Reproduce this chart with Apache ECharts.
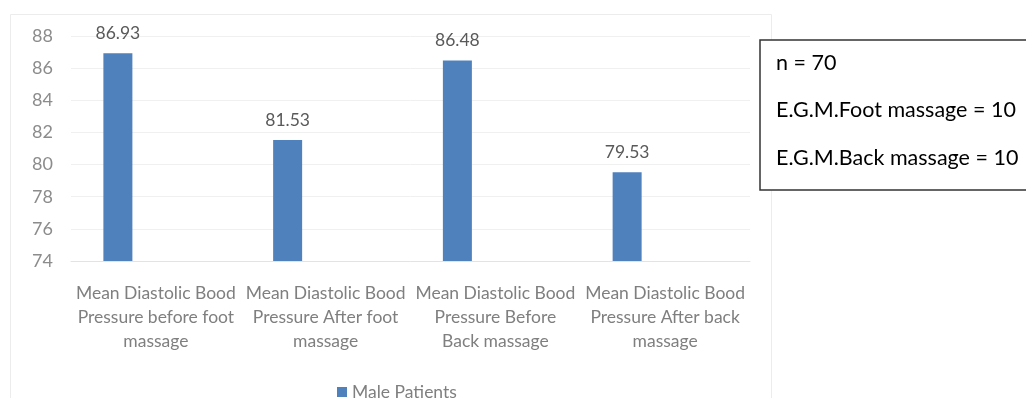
<!DOCTYPE html>
<html>
<head>
<meta charset="utf-8">
<script src="https://cdn.jsdelivr.net/npm/echarts@6/dist/echarts.min.js"></script>
<style>
html,body{margin:0;padding:0;background:#fff;}
#c{width:1026px;height:398px;}
</style>
</head>
<body>
<div id="c"></div>
<script>
const categories = [
  "Mean Diastolic Bood\nPressure before foot\nmassage",
  "Mean Diastolic Bood\nPressure After foot\nmassage",
  "Mean Diastolic Bood\nPressure Before\nBack massage",
  "Mean Diastolic Bood\nPressure After back\nmassage"
];
const malePatients = [86.93, 81.53, 86.48, 79.53];
const seriesName = "Male Patients";
const noteLines = ["n = 70", "E.G.M.Foot massage = 10", "E.G.M.Back massage = 10"];

const FONT = "Lato, 'Open Sans', sans-serif";
const chart = echarts.init(document.getElementById('c'), null, {renderer: 'canvas'});
chart.setOption({
  backgroundColor: '#fff',
  animation: false,
  textStyle: {fontFamily: FONT},
  grid: {left: 71, right: 276, top: 36, bottom: 137, containLabel: false},
  legend: {
    data: [seriesName],
    top: 378, left: 332,
    itemWidth: 10, itemHeight: 10, itemGap: 6,
    icon: 'rect',
    textStyle: {color: '#7f7f7f', fontSize: 17.5, fontFamily: FONT, padding: [0, 0, 0, 0]}
  },
  xAxis: {
    type: 'category',
    data: categories,
    axisLine: {show: true, lineStyle: {color: '#e3e3e3', width: 1}},
    axisTick: {show: false},
    axisLabel: {color: '#7f7f7f', fontSize: 17.5, lineHeight: 24, margin: 20, interval: 0, fontFamily: FONT}
  },
  yAxis: {
    type: 'value',
    min: 74, max: 88, interval: 2,
    axisLine: {show: false},
    axisTick: {show: false},
    splitLine: {lineStyle: {color: '#f0f0f0', width: 1}},
    axisLabel: {color: '#8c8c8c', fontSize: 18, margin: 18, fontFamily: FONT}
  },
  series: [
    {
      name: seriesName,
      type: 'bar',
      data: malePatients,
      barWidth: 29,
      barGap: '162%',
      itemStyle: {color: '#4f81bd'},
      label: {show: true, position: 'top', distance: 11, color: '#595959', fontSize: 17.5, fontFamily: FONT,
        formatter: p => p.value.toFixed(2)}
    },
    {
      name: '',
      type: 'bar',
      data: malePatients.map(() => null),
      barWidth: 29
    }
  ],
  graphic: [
    {type: 'rect', shape: {x: 10.5, y: 14.5, width: 761, height: 400}, style: {fill: 'none', stroke: '#ececec', lineWidth: 1}, silent: true, z: -1},
    {type: 'rect', shape: {x: 760, y: 40, width: 280, height: 150}, style: {fill: '#fff', stroke: '#333', lineWidth: 1.5}, silent: true},
    ...noteLines.map((t, i) => ({
      type: 'text', left: 776, top: 52 + i * 47.5,
      style: {text: t, fill: '#000', font: "21.5px " + FONT}
    }))
  ]
});
</script>
</body>
</html>
